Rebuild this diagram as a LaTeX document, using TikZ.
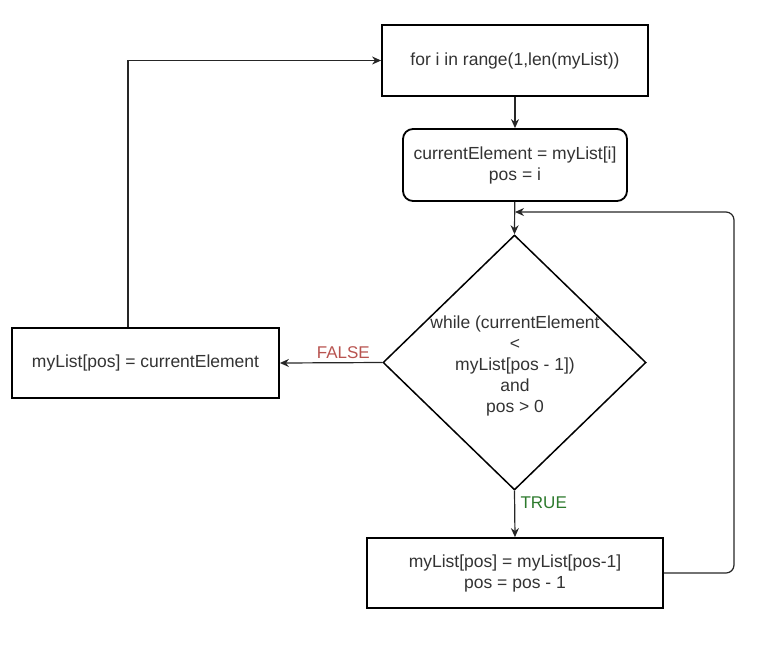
\documentclass[tikz,border=0pt]{standalone}
\usepackage{fontspec}
\setmainfont{Liberation Sans}
\usetikzlibrary{shapes.geometric,arrows.meta}
\definecolor{txt}{HTML}{333333}
\definecolor{falsered}{HTML}{B85450}
\definecolor{truegreen}{HTML}{2D7A2D}
\tikzset{
  box/.style={draw=black, line width=1.8pt, fill=white, inner sep=0pt, text=txt, align=center, font=\fontsize{17.5}{21}\selectfont},
  dec/.style={draw=black, line width=1.5pt, shape=diamond, inner sep=0pt, minimum width=263pt, minimum height=255pt},
  arr/.style={draw=black!85, line width=1.2pt, -{Stealth[length=9pt,width=8pt]}},
  lbl/.style={font=\fontsize{17}{20}\selectfont}
}
\begin{document}
\begin{tikzpicture}[x=1pt,y=-1pt]
\useasboundingbox (0,0) rectangle (771,649);
\node[box, minimum width=266pt, minimum height=71pt] (b1) at (515,60.5) {for i in range(1,len(myList))};
\node[box, rounded corners=10pt, minimum width=224pt, minimum height=72pt] (b2) at (515,165) {currentElement = myList[i]\\pos = i};
\node[dec] (d) at (514.5,362.5) {};
\node[text=txt, align=center, font=\fontsize{17.5}{21}\selectfont] (dt) at (515,366) {while (currentElement\\<\\myList[pos - 1])\\and\\pos > 0};
\node[box, minimum width=267pt, minimum height=70pt] (b3) at (145.5,363) {myList[pos] = currentElement};
\node[box, minimum width=296pt, minimum height=70pt] (b4) at (515,573) {myList[pos] = myList[pos-1]\\pos = pos - 1};
\coordinate (m) at (515,212);
\coordinate (c) at (734,212);
\draw[arr] (b1) -- (b2);
\draw[arr] (b2) -- (d.north);
\draw[arr] (d.west) -- (b3.east) node[lbl, text=falsered, pos=0.38, above=0pt] (lf) {FALSE};
\draw[arr] (d.south) -- (b4.north) node[lbl, text=truegreen, pos=0.26, right=2pt] (lt) {TRUE};
\draw[arr, rounded corners=8pt] (b4.east) -| (c) -- (m);
\draw[arr] ([xshift=-17.5pt]b3.north) |- (b1.west);
\end{tikzpicture}
\end{document}
